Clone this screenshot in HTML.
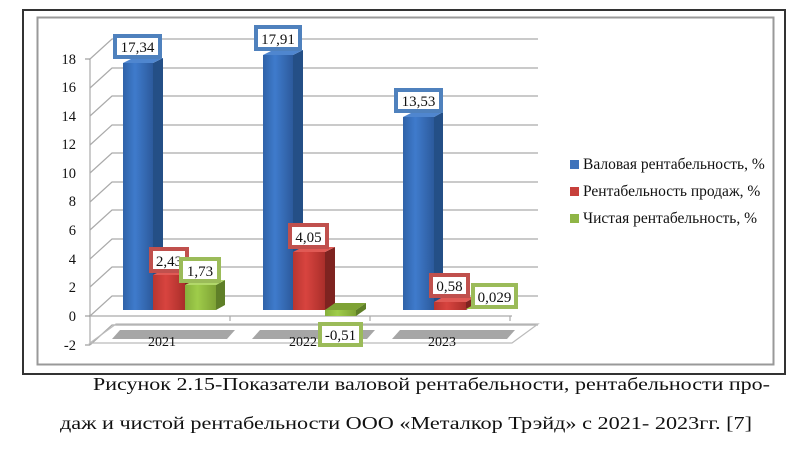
<!DOCTYPE html>
<html><head><meta charset="utf-8"><style>
html,body{margin:0;padding:0;background:#fff;}
svg{display:block;}
text{font-family:"Liberation Serif",serif;}
</style></head><body>
<svg width="800" height="458" viewBox="0 0 800 458" xmlns="http://www.w3.org/2000/svg">
<defs>
<linearGradient id="gb" x1="0" x2="1"><stop offset="0" stop-color="#2f62a8"/><stop offset="0.4" stop-color="#3f7bcc"/><stop offset="1" stop-color="#2c5a9c"/></linearGradient>
<linearGradient id="gr" x1="0" x2="1"><stop offset="0" stop-color="#b83530"/><stop offset="0.4" stop-color="#d8443f"/><stop offset="1" stop-color="#a92e2a"/></linearGradient>
<linearGradient id="gg" x1="0" x2="1"><stop offset="0" stop-color="#86b03c"/><stop offset="0.4" stop-color="#9fcc4a"/><stop offset="1" stop-color="#7ea235"/></linearGradient>
</defs>
<rect x="23" y="10" width="762" height="364" fill="#fff" stroke="#333" stroke-width="2"/>
<rect x="37.5" y="17.5" width="736" height="347" fill="#fff" stroke="#999" stroke-width="2"/>
<g stroke="#aaa" stroke-width="1.2" fill="none">
<path d="M90,345 L112,325 L538,325"/>
<path d="M90,316 L112,296 L538,296"/>
<path d="M90,287 L112,267 L538,267"/>
<path d="M90,259 L112,239 L538,239"/>
<path d="M90,230 L112,210 L538,210"/>
<path d="M90,202 L112,182 L538,182"/>
<path d="M90,173 L112,153 L538,153"/>
<path d="M90,145 L112,125 L538,125"/>
<path d="M90,116 L112,96 L538,96"/>
<path d="M90,88 L112,68 L538,68"/>
<path d="M90,59 L112,39 L538,39"/>
<path d="M90,59 L90,345"/>
<path d="M90,316 L512,316 M230,316 L230,321 M370,316 L370,321 M510,316 L510,321"/>
<path d="M90,343 L116,324 L538,324 L512,343 Z" stroke="#bbb"/>
</g>
<g stroke="#888"><line x1="85" y1="59" x2="90" y2="59"/><line x1="85" y1="316" x2="90" y2="316"/><line x1="85" y1="345" x2="90" y2="345"/></g>
<g fill="#a6a6a6">
<path d="M120,330 L235,330 L227,339 L112,339 Z"/>
<path d="M260,330 L375,330 L367,339 L252,339 Z"/>
<path d="M400,330 L515,330 L507,339 L392,339 Z"/>
</g>
<g font-size="14" text-anchor="middle" fill="#111">
<text x="162" y="346">2021</text><text x="303" y="346">2022</text><text x="442" y="346">2023</text>
</g>
<g font-size="14.5" text-anchor="end" fill="#111">
<text x="76" y="64">18</text><text x="76" y="92">16</text><text x="76" y="121">14</text><text x="76" y="149">12</text><text x="76" y="178">10</text><text x="76" y="206">8</text><text x="76" y="235">6</text><text x="76" y="264">4</text><text x="76" y="292">2</text><text x="76" y="321">0</text><text x="76" y="350">-2</text>
</g>
<g>
<path d="M153,63 L163,58 L163,305 L153,310Z" fill="#244f86"/><path d="M123,63 L133,58 L163,58 L153,63Z" fill="#4f86cf"/><rect x="123" y="63" width="30" height="247" fill="url(#gb)"/>
<path d="M185,275 L195,270 L195,305 L185,310Z" fill="#7e2320"/><path d="M153,275 L163,270 L195,270 L185,275Z" fill="#e05a55"/><rect x="153" y="275" width="32" height="35" fill="url(#gr)"/>
<path d="M216,285 L225,280 L225,305 L216,310Z" fill="#5f7f28"/><path d="M185,285 L195,280 L225,280 L216,285Z" fill="#b2d86a"/><rect x="185" y="285" width="31" height="25" fill="url(#gg)"/>
<path d="M293,55 L303,50 L303,305 L293,310Z" fill="#244f86"/><path d="M263,55 L273,50 L303,50 L293,55Z" fill="#4f86cf"/><rect x="263" y="55" width="30" height="255" fill="url(#gb)"/>
<path d="M325,252 L335,247 L335,305 L325,310Z" fill="#7e2320"/><path d="M293,252 L303,247 L335,247 L325,252Z" fill="#e05a55"/><rect x="293" y="252" width="32" height="58" fill="url(#gr)"/>
<path d="M325,310 L335,303 L366,303 L356,310Z" fill="#7ea235"/><path d="M356,310 L366,303 L366,309 L356,316Z" fill="#5f7f28"/><rect x="325" y="310" width="31" height="6" fill="url(#gg)"/>
<path d="M434,117 L443,112 L443,305 L434,310Z" fill="#244f86"/><path d="M403,117 L413,112 L443,112 L434,117Z" fill="#4f86cf"/><rect x="403" y="117" width="31" height="193" fill="url(#gb)"/>
<path d="M466,302 L475,297 L475,305 L466,310Z" fill="#7e2320"/><path d="M434,302 L443,297 L475,297 L466,302Z" fill="#e05a55"/><rect x="434" y="302" width="32" height="8" fill="url(#gr)"/>
<path d="M466,309 L475,304 L497,304 L490,309Z" fill="#9fcc4a"/>
</g>
<g font-size="15" text-anchor="middle" fill="#111">
<rect x="115" y="36" width="45" height="21" fill="#fff" stroke="#4f81bd" stroke-width="4"/><text x="137.5" y="52">17,34</text>
<rect x="256" y="27" width="44" height="22" fill="#fff" stroke="#4f81bd" stroke-width="4"/><text x="278" y="44">17,91</text>
<rect x="396" y="90" width="45" height="21" fill="#fff" stroke="#4f81bd" stroke-width="4"/><text x="418.5" y="106">13,53</text>
<rect x="151" y="249" width="36" height="22" fill="#fff" stroke="#c0504d" stroke-width="4"/><text x="169" y="266">2,43</text>
<rect x="181" y="259" width="38" height="22" fill="#fff" stroke="#9bbb59" stroke-width="4"/><text x="200" y="276">1,73</text>
<rect x="290" y="225" width="37" height="22" fill="#fff" stroke="#c0504d" stroke-width="4"/><text x="308.5" y="242">4,05</text>
<rect x="320" y="324" width="41" height="21" fill="#fff" stroke="#9bbb59" stroke-width="4"/><text x="340.5" y="340">-0,51</text>
<rect x="431" y="275" width="37" height="21" fill="#fff" stroke="#c0504d" stroke-width="4"/><text x="449.5" y="291">0,58</text>
<rect x="473" y="285" width="43" height="22" fill="#fff" stroke="#9bbb59" stroke-width="4"/><text x="494.5" y="302">0,029</text>
</g>
<g font-size="15.5" fill="#111">
<rect x="570" y="160" width="9" height="9" fill="#3f73bb"/><text x="583" y="169">Валовая рентабельность, %</text>
<rect x="570" y="187" width="9" height="9" fill="#c7403b"/><text x="583" y="196">Рентабельность продаж, %</text>
<rect x="570" y="214" width="9" height="9" fill="#8fb546"/><text x="583" y="223">Чистая рентабельность, %</text>
</g>
<g font-size="18" fill="#111">
<text x="93" y="390" textLength="677" lengthAdjust="spacingAndGlyphs">Рисунок 2.15-Показатели валовой рентабельности, рентабельности про-</text>
<text x="60" y="429" textLength="692" lengthAdjust="spacingAndGlyphs">даж и чистой рентабельности ООО «Металкор Трэйд» с 2021- 2023гг. [7]</text>
</g>
</svg>
</body></html>
